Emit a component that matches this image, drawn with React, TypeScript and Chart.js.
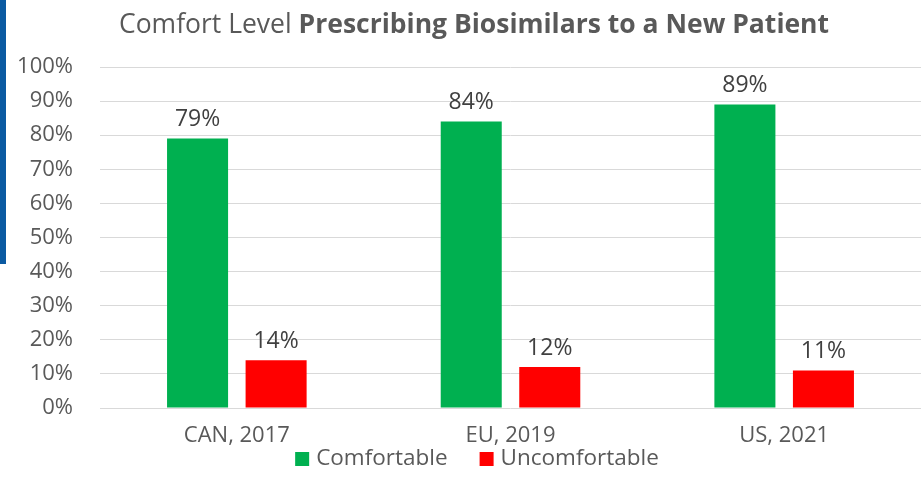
import React, { useEffect, useRef } from "react";
import { Chart, registerables } from "chart.js";

Chart.register(...registerables);

const categories = ["CAN, 2017", "EU, 2019", "US, 2021"];
const comfortable = [79, 84, 89];
const uncomfortable = [14, 12, 11];
const seriesNames = ["Comfortable", "Uncomfortable"];
const seriesColors = ["#00B050", "#FF0000"];
const yTicks = [0, 10, 20, 30, 40, 50, 60, 70, 80, 90, 100];
const titleNormal = "Comfort Level ";
const titleBold = "Prescribing Biosimilars to a New Patient";

const FONT = "'Open Sans', 'Noto Sans', sans-serif";
const TEXT = "#595959";

const decorPlugin = {
  id: "decor",
  afterDatasetsDraw(chart: any) {
    const ctx = chart.ctx;
    ctx.save();
    ctx.fillStyle = "#404040";
    ctx.font = `23px ${FONT}`;
    ctx.textAlign = "center";
    ctx.textBaseline = "middle";
    chart.data.datasets.forEach((ds: any, di: number) => {
      const meta = chart.getDatasetMeta(di);
      meta.data.forEach((bar: any, i: number) => {
        ctx.fillText(ds.data[i] + "%", bar.x, bar.y - 19);
      });
    });
    ctx.restore();
  },
  afterDraw(chart: any) {
    const ctx = chart.ctx;
    ctx.save();
    ctx.textBaseline = "middle";
    ctx.fillStyle = TEXT;
    const fN = `26.5px ${FONT}`;
    const fB = `bold 26.5px ${FONT}`;
    ctx.font = fN;
    const wN = ctx.measureText(titleNormal).width;
    ctx.font = fB;
    const wB = ctx.measureText(titleBold).width;
    const cx = 474;
    let x = cx - (wN + wB) / 2;
    ctx.textAlign = "left";
    ctx.font = fN;
    ctx.fillText(titleNormal, x, 25);
    ctx.font = fB;
    ctx.fillText(titleBold, x + wN, 25);
    // legend
    ctx.font = `22.5px ${FONT}`;
    const box = 14;
    const gap = 7;
    const itemGap = 32;
    const widths = seriesNames.map((n) => box + gap + ctx.measureText(n).width);
    const total = widths.reduce((a, b) => a + b, 0) + itemGap * (widths.length - 1);
    let lx = 477 - total / 2;
    const ly = 459;
    chart.data.datasets.forEach((ds: any, i: number) => {
      ctx.fillStyle = ds.backgroundColor;
      ctx.fillRect(lx, ly - box / 2, box, box);
      ctx.fillStyle = TEXT;
      ctx.fillText(ds.label, lx + box + gap, ly);
      lx += widths[i] + itemGap;
    });
    ctx.restore();
  },
};

export default function App() {
  const ref = useRef<HTMLCanvasElement>(null);
  useEffect(() => {
    const chart = new Chart(ref.current!, {
      type: "bar",
      data: {
        labels: categories,
        datasets: [
          { label: seriesNames[0], data: comfortable, backgroundColor: seriesColors[0] },
          { label: seriesNames[1], data: uncomfortable, backgroundColor: seriesColors[1] },
        ],
      },
      options: {
        animation: false,
        responsive: false,
        layout: { padding: { top: 67, right: 0, bottom: 40, left: 0 } },
        datasets: { bar: { categoryPercentage: 0.574, barPercentage: 0.777 } },
        plugins: { legend: { display: false }, title: { display: false }, tooltip: { enabled: false } },
        scales: {
          x: {
            grid: { display: false, drawTicks: false },
            border: { display: false },
            ticks: { color: TEXT, font: { family: FONT, size: 22 }, padding: 15 },
            afterFit(scale: any) {
              scale.height = 47;
            },
          },
          y: {
            min: 0,
            max: 100,
            afterBuildTicks(scale: any) {
              scale.ticks = yTicks.map((v) => ({ value: v }));
            },
            grid: { color: "#D9D9D9", lineWidth: 1, drawTicks: false },
            border: { display: false },
            ticks: {
              color: TEXT,
              font: { family: FONT, size: 22 },
              padding: 27,
              callback: (v: any) => v + "%",
            },
            afterFit(scale: any) {
              scale.width = 100;
            },
          },
        },
      },
      plugins: [decorPlugin],
    });
    return () => chart.destroy();
  }, []);
  return (
    <div style={{ position: "fixed", left: 0, top: 0, width: 921, height: 495, background: "#fff" }}>
      <div style={{ position: "absolute", left: 0, top: 0, width: 6, height: 264, background: "#0B5AA2" }} />
      <canvas ref={ref} width={921} height={495} style={{ display: "block" }} />
    </div>
  );
}
